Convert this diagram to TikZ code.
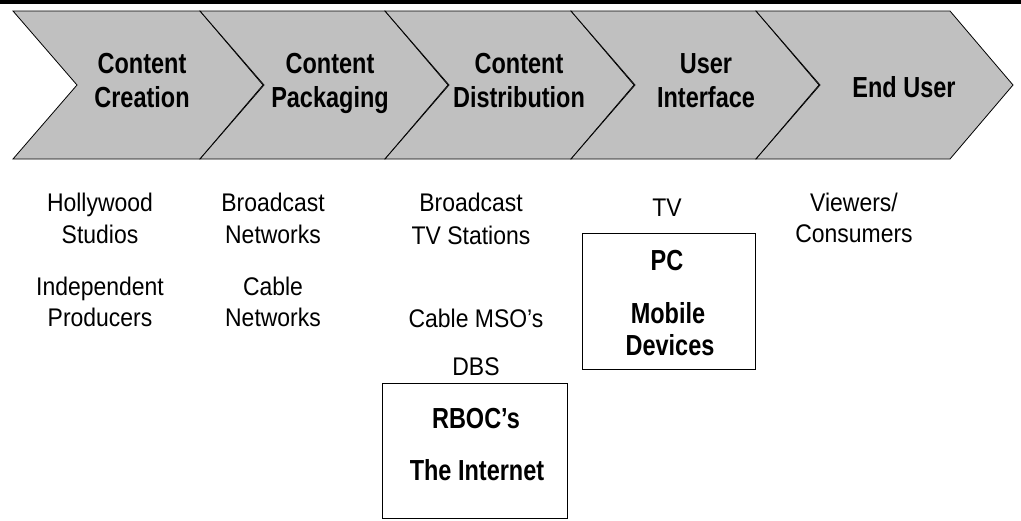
\documentclass[tikz,border=0pt]{standalone}
\usepackage{fontspec}
\setmainfont{Liberation Sans}
\newfontfamily\regf[FakeStretch=0.9]{Liberation Sans}
\newfontfamily\boldf[FakeStretch=0.81]{Liberation Sans}
\definecolor{chev}{HTML}{C0C0C0}
\begin{document}
\begin{tikzpicture}[x=1pt,y=-1pt,
  chevron/.style={fill=chev,draw=black,line width=0.8pt,line join=miter},
  title/.style={anchor=base,inner sep=0pt,font=\boldf\bfseries\fontsize{29}{34}\selectfont},
  lbl/.style={anchor=base,inner sep=0pt,font=\regf\fontsize{25.5}{31}\selectfont},
  framebox/.style={draw=black,line width=0.8pt,inner sep=0pt}]
\useasboundingbox (0,0) rectangle (1021,520);
\fill[black] (0,0) rectangle (1021,3.5);
\foreach \a/\b in {13/200,200/385,385/571,571/756,756/950} {
  \path[chevron] (\a,11) -- (\b,11) -- (\b+63,85) -- (\b,159) -- (\a,159) -- (\a+64,85) -- cycle;
}
% titles
\node[title] (c1a) at (142,73) {Content};
\node[title] (c1b) at (142,107) {Creation};
\node[title] (c2a) at (330,73) {Content};
\node[title] (c2b) at (330,107) {Packaging};
\node[title] (c3a) at (519,73) {Content};
\node[title] (c3b) at (519,107) {Distribution};
\node[title] (c4a) at (706,73) {User};
\node[title] (c4b) at (706,107) {Interface};
\node[title] (c5a) at (904,97) {End User};
% column 1
\node[lbl] (h1) at (100,211) {Hollywood};
\node[lbl] (h2) at (100,243) {Studios};
\node[lbl] (i1) at (100,295) {Independent};
\node[lbl] (i2) at (100,326) {Producers};
% column 2
\node[lbl] (b1) at (273,211) {Broadcast};
\node[lbl] (b2) at (273,243) {Networks};
\node[lbl] (n1) at (273,295) {Cable};
\node[lbl] (n2) at (273,326) {Networks};
% column 3
\node[lbl] (s1) at (471,211) {Broadcast};
\node[lbl] (s2) at (471,244) {TV Stations};
\node[lbl] (mso) at (476,327) {Cable MSO’s};
\node[lbl] (dbs) at (476,375) {DBS};
\node[framebox,minimum width=185pt,minimum height=135pt] (rbocbox) at (474.5,450.5) {};
\node[title] (rboc) at (476,428) {RBOC’s};
\node[title] (inet) at (477,480) {The Internet};
% column 4
\node[lbl] (tv) at (667,216) {TV};
\node[framebox,minimum width=173pt,minimum height=136pt] (pcbox) at (668.5,301) {};
\node[title] (pc) at (667,270) {PC};
\node[title] (mob) at (668,323) {Mobile};
\node[title] (dev) at (670,355) {Devices};
% column 5
\node[lbl] (v1) at (854,211) {Viewers/};
\node[lbl] (v2) at (854,242) {Consumers};
\end{tikzpicture}
\end{document}
